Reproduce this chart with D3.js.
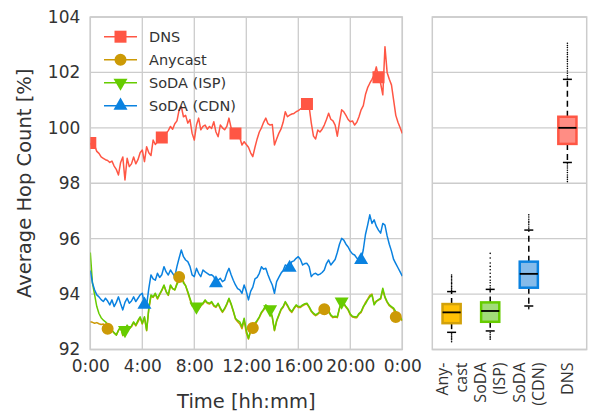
<!DOCTYPE html>
<html>
<head>
<meta charset="utf-8">
<script src="https://cdn.jsdelivr.net/npm/d3@7"></script>
<style>
  body { margin: 0; background: #fff; }
  svg { display: block; }
</style>
</head>
<body>
<svg width="595" height="417"></svg>
<script>
// data: one value every 10 minutes over 24h
const stepMin = 10;
const seriesNames = ["DNS", "Anycast", "SoDA (ISP)", "SoDA (CDN)"];
const seriesColors = ["#ff5644", "#cc9a06", "#66cc00", "#0a82e0"];
const markerShapes = ["square", "circle", "down", "up"];
const markerOffsets = [0, 8, 16, 25];
const markerStep = 33.3;

const dnsValues = [99.45,99.3,99.35,99.15,99.08,98.95,98.9,98.85,98.82,98.75,
  98.8,98.62,98.5,98.3,98.75,98.95,98.12,98.9,98.6,98.7,
  98.95,98.7,98.85,99.1,99.2,98.78,99.32,99.1,99.0,99.56,
  99.4,99.5,99.7,99.65,99.75,99.8,99.9,100.05,99.95,100.15,
  100.25,100.65,100.77,100.4,100.45,100.17,100.3,99.8,99.56,100.1,
  100.35,99.93,100.05,100.1,99.95,100.05,99.98,100.22,99.85,99.68,
  100.1,100.0,99.93,100.05,100.35,100.0,99.85,99.8,99.72,99.65,
  99.38,99.5,99.4,99.3,99.1,98.96,99.3,99.6,99.85,100.0,
  100.2,100.35,100.15,100.1,100.12,99.38,99.6,99.8,99.95,100.2,
  100.58,100.4,100.46,100.5,100.52,100.58,100.62,100.68,100.72,100.8,
  100.86,100.77,100.17,99.7,99.6,99.92,99.85,99.95,100.1,100.3,
  100.53,100.31,100.25,100.1,99.7,100.2,100.65,100.58,100.45,100.3,
  100.22,100.25,100.1,100.2,100.4,100.65,100.8,101.2,101.45,101.61,
  101.75,101.9,102.2,101.83,101.6,101.19,102.93,102.0,101.75,101.55,
  101.0,100.45,100.2,100.0,99.8];

const anycastValues = [93.0,92.98,92.95,92.97,92.93,92.9,92.92,92.85,92.75,92.72,
  92.68,92.6,92.52,92.68,92.8,92.5,92.68,92.85,92.75,92.82,
  92.97,92.85,93.0,93.15,92.92,93.15,92.68,93.45,93.92,93.88,
  94.0,93.82,93.98,94.12,94.3,94.08,93.95,94.3,94.2,94.15,
  94.4,94.62,94.72,94.45,94.3,94.05,93.8,93.58,93.58,93.52,
  93.46,93.57,93.64,93.76,93.67,93.64,93.7,93.57,93.52,93.64,
  93.47,93.34,93.46,93.62,93.82,93.62,93.37,93.1,93.0,92.92,
  92.75,93.05,92.6,92.38,92.65,92.78,92.9,93.02,93.15,93.32,
  93.42,93.58,93.52,93.42,93.15,92.68,93.02,93.22,93.42,93.52,
  93.7,93.57,93.42,93.34,93.47,93.58,93.52,93.52,93.58,93.62,
  93.64,93.52,93.37,93.28,93.22,93.27,93.34,93.46,93.45,93.5,
  93.37,93.22,93.15,93.17,93.15,93.47,93.7,93.64,93.52,93.42,
  93.25,93.17,93.15,93.15,93.27,93.34,93.52,93.7,93.82,93.95,
  94.0,93.65,93.75,93.78,93.82,94.15,93.87,93.7,93.58,93.52,
  93.46,93.17,93.22,93.15,93.03];

const ispValues = [95.5,94.4,93.97,93.55,93.3,93.15,93.06,93.0,92.9,92.77,
  92.7,92.6,92.52,92.7,92.82,92.52,92.7,92.88,92.77,92.85,
  93.0,92.88,93.05,93.18,92.95,93.18,92.7,93.49,93.97,93.9,
  94.03,93.85,94.0,94.15,94.33,94.1,93.97,94.33,94.2,94.15,
  94.35,94.5,94.69,94.4,94.3,94.09,93.85,93.61,93.61,93.55,
  93.49,93.6,93.67,93.79,93.7,93.67,93.73,93.6,93.55,93.67,
  93.5,93.37,93.49,93.65,93.85,93.65,93.4,93.13,93.05,93.0,
  92.82,93.13,92.7,92.4,92.7,92.88,92.95,93.05,93.18,93.35,
  93.45,93.61,93.55,93.45,93.18,92.7,93.05,93.25,93.45,93.55,
  93.73,93.6,93.45,93.37,93.5,93.61,93.55,93.55,93.61,93.65,
  93.67,93.55,93.4,93.31,93.25,93.3,93.37,93.49,93.55,93.61,
  93.4,93.25,93.18,93.2,93.18,93.5,93.73,93.67,93.55,93.45,
  93.28,93.2,93.18,93.18,93.3,93.37,93.55,93.65,93.79,93.9,
  93.97,93.61,93.73,93.8,93.85,94.21,93.9,93.73,93.61,93.55,
  93.49,93.37,93.25,93.18,93.06];

const cdnValues = [94.85,94.4,94.15,93.97,93.9,93.8,93.73,93.85,93.75,93.61,
  93.79,93.55,93.7,93.9,93.65,93.43,93.7,93.85,93.67,93.75,
  93.9,93.73,93.85,93.97,94.03,93.62,93.61,94.2,94.69,94.55,
  94.5,94.75,94.6,94.7,94.99,94.8,94.69,94.87,94.75,94.63,
  95.0,95.3,95.59,95.35,95.23,95.17,95.0,94.69,94.63,94.93,
  94.75,94.63,94.87,94.8,94.75,94.69,94.7,94.63,94.39,94.5,
  94.57,94.45,94.5,94.75,94.93,94.7,94.5,94.33,94.2,94.15,
  94.03,94.33,94.1,93.79,94.1,94.25,94.55,94.6,94.75,94.99,
  94.9,94.93,94.7,94.5,94.33,94.03,94.45,94.6,94.75,94.85,
  95.05,95.0,94.95,95.17,95.2,95.29,95.35,95.25,95.05,95.1,
  95.11,94.99,94.63,94.72,94.75,94.69,94.72,94.78,94.87,95.1,
  95.23,95.05,95.15,95.25,95.5,95.8,96.01,95.95,95.8,95.7,
  95.55,95.45,95.41,95.3,95.25,95.23,95.6,96.15,96.49,96.86,
  96.55,96.68,96.45,96.31,96.2,96.55,96.49,96.1,95.8,95.55,
  95.25,95.1,94.95,94.8,94.65];

const seriesValues = [dnsValues, anycastValues, ispValues, cdnValues];

// box plot summary
const boxCats = ["Anycast", "SoDA (ISP)", "SoDA (CDN)", "DNS"];
const boxLabels = [["Any-", "cast"], ["SoDA", "(ISP)"], ["SoDA", "(CDN)"], ["DNS"]];
const boxFill = ["#ffc105", "#a2dc7a", "#85bbea", "#ff8d84"];
const boxEdge = ["#d2a10a", "#66cc00", "#0a82e0", "#ff5644"];
const whiskerLow = [92.62, 92.67, 93.57, 98.75];
const q1 = [92.95, 93.0, 94.23, 99.42];
const median = [93.34, 93.39, 94.73, 100.0];
const q3 = [93.64, 93.70, 95.17, 100.40];
const whiskerHigh = [94.09, 94.17, 96.31, 101.75];
const fliers = [
  [94.13, 94.18, 94.22, 94.27, 94.33, 94.38, 94.41, 94.47, 94.52, 94.58, 94.63, 94.69,
   92.57, 92.52, 92.46, 92.41, 92.35, 92.28],
  [94.22, 94.3, 94.41, 94.5, 94.62, 94.75, 94.88, 95.0, 95.12, 95.3, 95.47,
   92.62, 92.55, 92.48, 92.42, 92.37],
  [96.36, 96.42, 96.5, 96.57, 96.63, 96.7, 96.78, 96.86, 93.52, 93.47],
  [101.8, 101.88, 101.97, 102.05, 102.14, 102.22, 102.31, 102.4, 102.47, 102.56, 102.65,
   102.72, 102.81, 102.9, 102.97, 103.05,
   98.7, 98.62, 98.55, 98.47, 98.39, 98.3, 98.22, 98.14, 98.06]
];

const yTicks = [92, 94, 96, 98, 100, 102, 104];
const xTicks = [0, 240, 480, 720, 960, 1200, 1440];

// layout
const svg = d3.select("svg");
const pTop = 17, pBottom = 349.5;
const pLeft = 90.3, pRight = 402.3;
const bLeft = 432.3, bRight = 586.7;
const grid = "#cccccc";
const textCol = "#333";
const font = "DejaVu Sans, sans-serif";

const y = d3.scaleLinear().domain([92, 104]).range([pBottom, pTop]);
const x = d3.scaleLinear().domain([0, 1440]).range([pLeft, pRight]);
const xb = d3.scaleBand().domain(boxCats).range([bLeft, bRight]);

const fmtTime = (m) => `${Math.floor(m / 60) % 24}:00`;

// ---- left panel: grid
const g = svg.append("g");
g.selectAll(".hg").data(yTicks).enter().append("line")
  .attr("x1", pLeft).attr("x2", pRight)
  .attr("y1", d => y(d)).attr("y2", d => y(d))
  .attr("stroke", grid).attr("stroke-width", 1.3);
g.selectAll(".vg").data(xTicks).enter().append("line")
  .attr("x1", d => x(d)).attr("x2", d => x(d))
  .attr("y1", pTop).attr("y2", pBottom)
  .attr("stroke", grid).attr("stroke-width", 1.3);
g.append("rect")
  .attr("x", pLeft).attr("y", pTop).attr("width", pRight - pLeft).attr("height", pBottom - pTop)
  .attr("fill", "none").attr("stroke", grid).attr("stroke-width", 1.5);

// axes (text only, seaborn style)
const yAxis = d3.axisLeft(y).tickValues(yTicks).tickSize(0).tickPadding(10);
svg.append("g").attr("transform", `translate(${pLeft},0)`).call(yAxis)
  .call(a => a.select(".domain").remove())
  .selectAll("text").attr("font-family", font).attr("font-size", 17).attr("fill", textCol);

const xAxis = d3.axisBottom(x).tickValues(xTicks).tickFormat(fmtTime).tickSize(0).tickPadding(10);
svg.append("g").attr("transform", `translate(0,${pBottom})`).call(xAxis)
  .call(a => a.select(".domain").remove())
  .selectAll("text").attr("font-family", font).attr("font-size", 17).attr("fill", textCol);

svg.append("text")
  .attr("transform", `translate(31,${(pTop + pBottom) / 2}) rotate(-90)`)
  .attr("text-anchor", "middle")
  .attr("font-family", font).attr("font-size", 19.5).attr("fill", textCol)
  .text("Average Hop Count [%]");
svg.append("text")
  .attr("x", (pLeft + pRight) / 2).attr("y", 408)
  .attr("text-anchor", "middle")
  .attr("font-family", font).attr("font-size", 19.5).attr("fill", textCol)
  .text("Time [hh:mm]");

// ---- lines
svg.append("clipPath").attr("id", "clip")
  .append("rect").attr("x", pLeft).attr("y", pTop).attr("width", pRight - pLeft).attr("height", pBottom - pTop);

const plot = svg.append("g").attr("clip-path", "url(#clip)");
const line = d3.line().x((d, i) => x(i * stepMin)).y(d => y(d));

const symbolFor = (shape) => {
  if (shape === "square") return d3.symbol().type(d3.symbolSquare).size(144)();
  if (shape === "circle") return d3.symbol().type(d3.symbolCircle).size(113)();
  return d3.symbol().type(d3.symbolTriangle).size(85)();
};

seriesValues.forEach((vals, s) => {
  plot.append("path")
    .attr("d", line(vals))
    .attr("fill", "none")
    .attr("stroke", seriesColors[s])
    .attr("stroke-width", 1.5)
    .attr("stroke-linejoin", "round");
});

seriesValues.forEach((vals, s) => {
  const idx = [];
  for (let k = 0; Math.round(markerOffsets[s] + k * markerStep) < vals.length; k++) {
    idx.push(Math.round(markerOffsets[s] + k * markerStep));
  }
  plot.selectAll(`.m${s}`).data(idx).enter().append("path")
    .attr("d", symbolFor(markerShapes[s]))
    .attr("transform", i => `translate(${x(i * stepMin)},${y(vals[i])})${markerShapes[s] === "down" ? " rotate(180)" : ""}`)
    .attr("fill", seriesColors[s]);
});

// ---- legend
const legend = svg.append("g");
seriesNames.forEach((name, s) => {
  const ly = 36.7 + s * 23;
  legend.append("line")
    .attr("x1", 104).attr("x2", 137).attr("y1", ly).attr("y2", ly)
    .attr("stroke", seriesColors[s]).attr("stroke-width", 1.5);
  legend.append("path")
    .attr("d", symbolFor(markerShapes[s]))
    .attr("transform", `translate(120.5,${ly})${markerShapes[s] === "down" ? " rotate(180)" : ""}`)
    .attr("fill", seriesColors[s]);
  legend.append("text")
    .attr("x", 149).attr("y", ly).attr("dy", "0.36em")
    .attr("font-family", font).attr("font-size", 14.5).attr("fill", textCol)
    .text(name);
});

// ---- right panel: box plot
const b = svg.append("g");
b.selectAll(".hg").data(yTicks).enter().append("line")
  .attr("x1", bLeft).attr("x2", bRight)
  .attr("y1", d => y(d)).attr("y2", d => y(d))
  .attr("stroke", grid).attr("stroke-width", 1.3);
b.append("rect")
  .attr("x", bLeft).attr("y", pTop).attr("width", bRight - bLeft).attr("height", pBottom - pTop)
  .attr("fill", "none").attr("stroke", grid).attr("stroke-width", 1.5);

const bw = xb.bandwidth() * 0.47;
const capW = 9;
boxCats.forEach((c, i) => {
  const cx = xb(c) + xb.bandwidth() / 2;
  // whiskers
  [[q3[i], whiskerHigh[i]], [q1[i], whiskerLow[i]]].forEach(([a, z]) => {
    b.append("line")
      .attr("x1", cx).attr("x2", cx).attr("y1", y(a)).attr("y2", y(z))
      .attr("stroke", "#000").attr("stroke-width", 1.5)
      .attr("stroke-dasharray", "6,4");
    b.append("line")
      .attr("x1", cx - capW / 2).attr("x2", cx + capW / 2).attr("y1", y(z)).attr("y2", y(z))
      .attr("stroke", "#000").attr("stroke-width", 1.5);
  });
  // fliers
  b.selectAll(`.f${i}`).data(fliers[i]).enter().append("circle")
    .attr("cx", cx).attr("cy", d => y(d)).attr("r", 0.8)
    .attr("fill", "#000");
  // box
  b.append("rect")
    .attr("x", cx - bw / 2).attr("width", bw)
    .attr("y", y(q3[i])).attr("height", y(q1[i]) - y(q3[i]))
    .attr("fill", boxFill[i]).attr("stroke", boxEdge[i]).attr("stroke-width", 2.5);
  b.append("line")
    .attr("x1", cx - bw / 2).attr("x2", cx + bw / 2)
    .attr("y1", y(median[i])).attr("y2", y(median[i]))
    .attr("stroke", "#000").attr("stroke-width", 1.8);
  // rotated labels
  const lines = boxLabels[i];
  lines.forEach((t, k) => {
    const lx = cx + (k - (lines.length - 1) / 2) * 19;
    svg.append("text")
      .attr("transform", `translate(${lx + 5.5},${pBottom + 13}) rotate(-90)`)
      .attr("text-anchor", "end")
      .attr("font-family", "Open Sans, sans-serif").attr("font-size", 16).attr("fill", textCol)
      .text(t);
  });
});
</script>
</body>
</html>
